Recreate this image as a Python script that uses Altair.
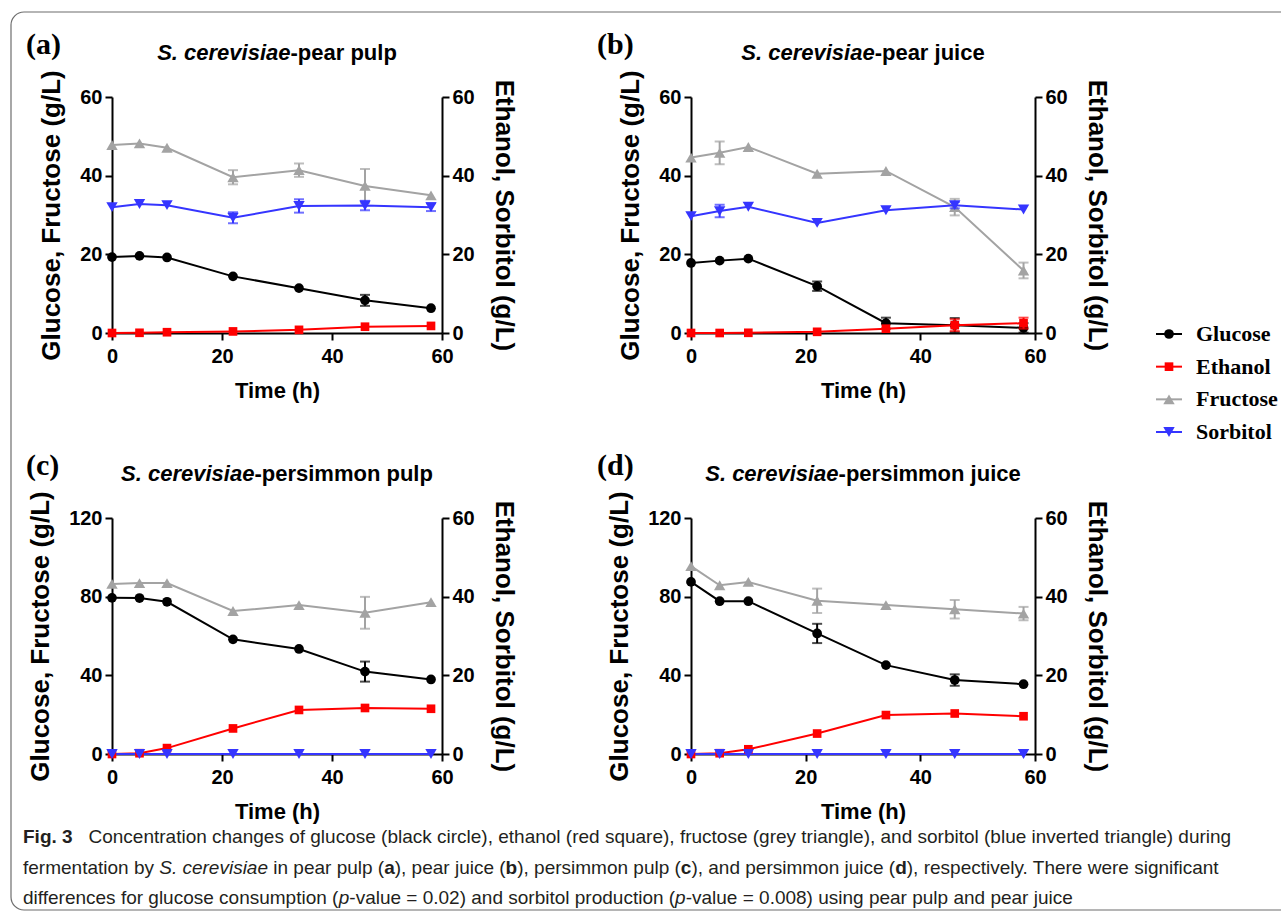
import altair as alt
import pandas as pd

# ---------------- data ----------------
TIME_H = [0, 5, 10, 22, 34, 46, 58]
SERIES = ["Glucose", "Ethanol", "Fructose", "Sorbitol"]
SIDE = {"Glucose": "left", "Fructose": "left", "Ethanol": "right", "Sorbitol": "right"}
COLORS = ["#000000", "#ff0000", "#a3a3a3", "#3535ff"]
SHAPES = ["circle", "square", "triangle-up", "triangle-down"]
MARKER_SIZES = [95, 75, 130, 130]

PANEL_KEYS = ["a", "b", "c", "d"]
PANEL_LABELS = ["(a)", "(b)", "(c)", "(d)"]
TITLE_SPECIES = "S. cerevisiae"
TITLE_SUBSTRATE = ["-pear pulp", "-pear juice", "-persimmon pulp", "-persimmon juice"]
LEFT_MAX = [60, 60, 120, 120]
LEFT_TICKS = [[0, 20, 40, 60], [0, 20, 40, 60], [0, 40, 80, 120], [0, 40, 80, 120]]
RIGHT_MAX = 60
RIGHT_TICKS = [0, 20, 40, 60]
TIME_TICKS = [0, 20, 40, 60]
LEFT_TITLE = "Glucose, Fructose (g/L)"
RIGHT_TITLE = "Ethanol, Sorbitol (g/L)"
X_TITLE = "Time (h)"

# panel (a) pear pulp
glucose_a = [19.3, 19.6, 19.2, 14.4, 11.4, 8.3, 6.3]
glucose_a_sd = [0, 0, 0, 0, 0, 1.4, 0]
fructose_a = [47.8, 48.2, 47.1, 39.6, 41.4, 37.4, 35.0]
fructose_a_sd = [0, 0, 0, 1.8, 1.7, 4.3, 0]
ethanol_a = [0.0, 0.05, 0.2, 0.4, 0.8, 1.6, 1.8]
ethanol_a_sd = [0, 0, 0, 0, 0, 0, 0]
sorbitol_a = [32.0, 32.8, 32.5, 29.3, 32.3, 32.4, 32.0]
sorbitol_a_sd = [0, 0, 0, 1.4, 1.7, 1.2, 1.0]

# panel (b) pear juice
glucose_b = [17.8, 18.4, 18.9, 11.9, 2.5, 2.0, 1.3]
glucose_b_sd = [0, 0, 0, 1.2, 1.4, 1.8, 1.2]
fructose_b = [44.6, 45.8, 47.3, 40.5, 41.2, 32.0, 15.9]
fructose_b_sd = [0, 2.9, 0, 0, 0, 2.1, 2.0]
ethanol_b = [0.0, 0.0, 0.05, 0.3, 1.1, 2.0, 2.5]
ethanol_b_sd = [0, 0, 0, 0, 0, 1.5, 1.4]
sorbitol_b = [29.7, 31.0, 32.1, 28.0, 31.2, 32.5, 31.4]
sorbitol_b_sd = [0, 1.6, 0, 0, 0, 0.8, 0]

# panel (c) persimmon pulp
glucose_c = [79.4, 79.3, 77.4, 58.3, 53.4, 41.9, 37.9]
glucose_c_sd = [0, 0, 0, 0, 0, 5.1, 0]
fructose_c = [86.5, 86.9, 86.9, 72.7, 75.7, 71.8, 77.2]
fructose_c_sd = [0, 0, 0, 0, 0, 8.1, 0]
ethanol_c = [0.0, 0.2, 1.5, 6.5, 11.2, 11.7, 11.5]
ethanol_c_sd = [0, 0, 0, 0, 0, 0, 0]
sorbitol_c = [0, 0, 0, 0, 0, 0, 0]
sorbitol_c_sd = [0, 0, 0, 0, 0, 0, 0]

# panel (d) persimmon juice
glucose_d = [87.5, 77.7, 77.7, 61.3, 45.2, 37.6, 35.5]
glucose_d_sd = [0, 0, 0, 4.9, 0, 2.9, 0]
fructose_d = [95.5, 85.8, 87.5, 77.9, 75.7, 73.6, 71.4]
fructose_d_sd = [0, 0, 0, 6.2, 0, 4.7, 3.4]
ethanol_d = [0.0, 0.2, 1.2, 5.2, 9.9, 10.3, 9.6]
ethanol_d_sd = [0, 0, 0, 0, 0, 0, 0]
sorbitol_d = [0, 0, 0, 0, 0, 0, 0]
sorbitol_d_sd = [0, 0, 0, 0, 0, 0, 0]

# caption, as (text, style) segments; style: "" regular, "b" bold, "i" italic
CAPTION_LINE_1 = [("Fig. 3", "b"),
                  ("   Concentration changes of glucose (black circle), ethanol (red square), "
                   "fructose (grey triangle), and sorbitol (blue inverted triangle) during", "")]
CAPTION_LINE_2 = [("fermentation by ", ""), ("S. cerevisiae", "i"), (" in pear pulp (", ""), ("a", "b"),
                  ("), pear juice (", ""), ("b", "b"), ("), persimmon pulp (", ""), ("c", "b"),
                  ("), and persimmon juice (", ""), ("d", "b"),
                  ("), respectively. There were significant", "")]
CAPTION_LINE_3 = [("differences for glucose consumption (", ""), ("p", "i"),
                  ("-value = 0.02) and sorbitol production (", ""), ("p", "i"),
                  ("-value = 0.008) using pear pulp and pear juice", "")]

TABLE = {
    "a": {"Glucose": (glucose_a, glucose_a_sd), "Ethanol": (ethanol_a, ethanol_a_sd),
          "Fructose": (fructose_a, fructose_a_sd), "Sorbitol": (sorbitol_a, sorbitol_a_sd)},
    "b": {"Glucose": (glucose_b, glucose_b_sd), "Ethanol": (ethanol_b, ethanol_b_sd),
          "Fructose": (fructose_b, fructose_b_sd), "Sorbitol": (sorbitol_b, sorbitol_b_sd)},
    "c": {"Glucose": (glucose_c, glucose_c_sd), "Ethanol": (ethanol_c, ethanol_c_sd),
          "Fructose": (fructose_c, fructose_c_sd), "Sorbitol": (sorbitol_c, sorbitol_c_sd)},
    "d": {"Glucose": (glucose_d, glucose_d_sd), "Ethanol": (ethanol_d, ethanol_d_sd),
          "Fructose": (fructose_d, fructose_d_sd), "Sorbitol": (sorbitol_d, sorbitol_d_sd)},
}

rows = []
for pk in PANEL_KEYS:
    for s in SERIES:
        vals, sds = TABLE[pk][s]
        for t, v, e in zip(TIME_H, vals, sds):
            rows.append({"panel": pk, "series": s, "side": SIDE[s], "time": t, "value": v, "sd": e})
long_df = pd.DataFrame(rows)

# ---------------- layout / style ----------------
SANS = "Liberation Sans, Arial, sans-serif"
SERIF = "Liberation Serif, Times New Roman, serif"
PLOT_W = [330, 344, 330, 344]
PLOT_H = 236
COL_GAP = 249
ROW_GAP = 185
COL1_X = 111          # page x of the first column's plot area (frame is at x = 10)
ROW2_Y = 517          # page y of the second row's plot area (frame is at y = 11)

# Arial / Liberation Sans advance widths (1/1000 em)
BOLD_W = dict(zip("ABCDEFGHIJKLMNOPQRSTUVWXYZ",
                  [722, 722, 722, 722, 667, 611, 778, 722, 278, 556, 722, 611, 833, 722, 778, 667,
                   778, 722, 667, 611, 722, 667, 944, 667, 667, 611]))
BOLD_W.update(dict(zip("abcdefghijklmnopqrstuvwxyz",
                       [556, 611, 556, 611, 556, 333, 611, 611, 278, 278, 556, 278, 889, 611, 611,
                        611, 611, 389, 556, 333, 611, 556, 778, 556, 556, 500])))
REG_W = dict(zip("ABCDEFGHIJKLMNOPQRSTUVWXYZ",
                 [667, 667, 722, 722, 667, 611, 778, 722, 278, 500, 667, 556, 833, 722, 778, 667,
                  778, 722, 667, 611, 722, 667, 944, 667, 667, 611]))
REG_W.update(dict(zip("abcdefghijklmnopqrstuvwxyz",
                      [556, 556, 500, 556, 556, 278, 556, 556, 222, 222, 500, 222, 833, 556, 556,
                       556, 556, 333, 500, 278, 556, 500, 722, 500, 500, 500])))
for tbl in (BOLD_W, REG_W):
    tbl.update({" ": 278, ".": 278, "-": 333, "(": 333, ")": 333, ",": 278, "=": 584})
    tbl.update({d: 556 for d in "0123456789"})


def text_w(s, size, bold=True):
    tbl = BOLD_W if bold else REG_W
    return sum(tbl.get(c, 556) for c in s) * size / 1000.0


TITLE_SIZE = 22

color_enc = alt.Color("series:N", scale=alt.Scale(domain=SERIES, range=COLORS), legend=None)
shape_enc = alt.Shape("series:N", scale=alt.Scale(domain=SERIES, range=SHAPES), legend=None)
# marker area per series, looked up in the browser (identity size scale)
SIZE_EXPR = " : ".join(f"datum.series === '{s}' ? {z}" for s, z in zip(SERIES, MARKER_SIZES)) + " : 80"
size_enc = alt.Size("msize:Q", scale=None, legend=None)


def y_axis(orient, ticks, title, title_pad):
    return alt.Axis(orient=orient, values=ticks, title=title, grid=False, format="d",
                    domainColor="black", domainWidth=2, tickColor="black", tickWidth=2, tickSize=7,
                    labelFont=SANS, labelFontSize=20, labelFontWeight="bold", labelColor="black",
                    labelPadding=3, titleFont=SANS, titleFontSize=26, titleFontWeight="bold",
                    titleColor="black", titlePadding=title_pad)


x_axis = alt.Axis(values=TIME_TICKS, title=X_TITLE, grid=False, format="d", labelFlush=False,
                  domainColor="black", domainWidth=2, tickColor="black", tickWidth=2, tickSize=7,
                  labelFont=SANS, labelFontSize=20, labelFontWeight="bold", labelColor="black",
                  labelPadding=6, titleFont=SANS, titleFontSize=22, titleFontWeight="bold",
                  titleColor="black", titlePadding=14)
x_enc = alt.X("time:Q", scale=alt.Scale(domain=[0, 60], nice=False), axis=x_axis)


def side_layer(df, dmax, ticks, title, orient, pad):
    ys = alt.Scale(domain=[0, dmax], nice=False)
    ax = y_axis(orient, ticks, title, pad)
    base = alt.Chart(df)
    line = base.mark_line(strokeWidth=2).encode(
        x=x_enc, y=alt.Y("value:Q", scale=ys, axis=ax), color=color_enc, detail="series:N")
    bars = base.transform_filter("datum.sd > 0").transform_calculate(
        lo="datum.value - datum.sd", hi="datum.value + datum.sd")
    rule = bars.mark_rule(strokeWidth=2).encode(
        x=x_enc, y=alt.Y("lo:Q", scale=ys, axis=ax), y2="hi:Q", color=color_enc)
    cap_lo = bars.mark_tick(orient="horizontal", size=10, thickness=2).encode(
        x=x_enc, y=alt.Y("lo:Q", scale=ys, axis=ax), color=color_enc)
    cap_hi = bars.mark_tick(orient="horizontal", size=10, thickness=2).encode(
        x=x_enc, y=alt.Y("hi:Q", scale=ys, axis=ax), color=color_enc)
    pts = base.transform_calculate(msize=SIZE_EXPR).mark_point(filled=True, opacity=1).encode(
        x=x_enc, y=alt.Y("value:Q", scale=ys, axis=ax), color=color_enc, shape=shape_enc, size=size_enc)
    return alt.layer(line, rule, cap_lo, cap_hi, pts)


def text_layer(txt, x, y, **mark):
    return alt.Chart(pd.DataFrame({"t": [txt]})).mark_text(**mark).encode(
        text="t:N", x=alt.value(x), y=alt.value(y))


CAP_SIZE = 19
CAP_KW = dict(font=SANS, fontSize=CAP_SIZE, align="left", baseline="middle", color="#231f20")


def rich_line(segments, x0, y):
    out = []
    x = x0
    for text, style in segments:
        bold = "b" in style
        lead = len(text) - len(text.lstrip(" "))
        body = text.strip(" ")
        if body:
            kw = dict(CAP_KW)
            if bold:
                kw["fontWeight"] = "bold"
            if "i" in style:
                kw["fontStyle"] = "italic"
            out.append(text_layer(body, x + text_w(" " * lead, CAP_SIZE, False), y, **kw))
        x += text_w(text, CAP_SIZE, bold)
    return out


# legend (drawn inside panel b, to its right)
leg_df = pd.DataFrame({"series": SERIES})
leg_y = alt.Y("series:N", scale=alt.Scale(type="point", domain=SERIES, range=[237, 335], padding=0),
              axis=None)
LEG_X = 465


def legend_layer():
    b = alt.Chart(leg_df)
    r = b.mark_rule(strokeWidth=2).encode(x=alt.value(LEG_X), x2=alt.value(LEG_X + 26), y=leg_y,
                                          color=color_enc)
    p = b.transform_calculate(msize=SIZE_EXPR).mark_point(filled=True, opacity=1).encode(
        x=alt.value(LEG_X + 13), y=leg_y, color=color_enc, shape=shape_enc, size=size_enc)
    t = b.mark_text(font=SERIF, fontSize=22, fontWeight="bold", align="left", baseline="middle",
                    color="black").encode(x=alt.value(LEG_X + 40), y=leg_y, text="series:N")
    return alt.layer(r, p, t)


# figure frame (rounded on the left), positioned relative to panel c
FR_L, FR_T, FR_R, FR_B, FR_RAD = 10 - COL1_X, 11 - ROW2_Y, 1280 - COL1_X, 909 - ROW2_Y, 13
FRAME_COLOR = "#6d6d6d"


def frame_layers():
    fdf = pd.DataFrame({"k": [0]})
    kw = dict(color=FRAME_COLOR, strokeWidth=1.2)
    arc_kw = dict(radius=FR_RAD + 0.6, radius2=FR_RAD - 0.6, color=FRAME_COLOR, stroke=None)
    return [
        alt.Chart(fdf).mark_rule(**kw).encode(x=alt.value(FR_L + FR_RAD), x2=alt.value(FR_R),
                                              y=alt.value(FR_T)),
        alt.Chart(fdf).mark_rule(**kw).encode(x=alt.value(FR_L), y=alt.value(FR_T + FR_RAD),
                                              y2=alt.value(FR_B - FR_RAD)),
        alt.Chart(fdf).mark_rule(**kw).encode(x=alt.value(FR_L + FR_RAD), x2=alt.value(FR_R),
                                              y=alt.value(FR_B)),
        alt.Chart(fdf).mark_arc(theta=4.7124, theta2=6.2832, **arc_kw).encode(
            x=alt.value(FR_L + FR_RAD), y=alt.value(FR_T + FR_RAD)),
        alt.Chart(fdf).mark_arc(theta=3.1416, theta2=4.7124, **arc_kw).encode(
            x=alt.value(FR_L + FR_RAD), y=alt.value(FR_B - FR_RAD)),
    ]


def make_panel(i):
    pk = PANEL_KEYS[i]
    w = PLOT_W[i]
    df = long_df[long_df["panel"] == pk]
    left = side_layer(df[df["side"] == "left"], LEFT_MAX[i], LEFT_TICKS[i], LEFT_TITLE, "left", 15)
    right = side_layer(df[df["side"] == "right"], RIGHT_MAX, RIGHT_TICKS, RIGHT_TITLE, "right", 16)
    w1 = text_w(TITLE_SPECIES, TITLE_SIZE)
    w2 = text_w(TITLE_SUBSTRATE[i], TITLE_SIZE)
    split = w / 2 + (w1 - w2) / 2
    t1 = text_layer(TITLE_SPECIES, split, -37, font=SANS, fontSize=TITLE_SIZE, fontWeight="bold",
                    fontStyle="italic", align="right", baseline="alphabetic", color="black")
    t2 = text_layer(TITLE_SUBSTRATE[i], split, -37, font=SANS, fontSize=TITLE_SIZE, fontWeight="bold",
                    align="left", baseline="alphabetic", color="black")
    lab = text_layer(PANEL_LABELS[i], 25 - COL1_X if i % 2 == 0 else -94, -52, font=SERIF,
                     fontSize=30, fontWeight="bold", align="left", baseline="middle", color="black")
    layers = [left, right]
    if pk == "b":
        layers.append(legend_layer())
    layers += [t1, t2, lab]
    if pk == "c":
        layers += frame_layers()
        cx = 22 - COL1_X
        layers += rich_line(CAPTION_LINE_1, cx, 836 - ROW2_Y)
        layers += rich_line(CAPTION_LINE_2, cx, 867 - ROW2_Y)
        layers += rich_line(CAPTION_LINE_3, cx, 897 - ROW2_Y)
    return alt.layer(*layers).resolve_scale(y="independent").properties(width=w, height=PLOT_H)


panels = [make_panel(i) for i in range(4)]

chart = alt.concat(*panels, columns=2, spacing={"row": ROW_GAP, "column": COL_GAP},
                   bounds="flush").resolve_scale(x="independent", y="independent").properties(
    padding={"left": 10, "top": 11, "right": 0, "bottom": 4}, background="white"
).configure_view(stroke=None)

chart.save("out.html", embed_options={"renderer": "svg", "actions": False})
